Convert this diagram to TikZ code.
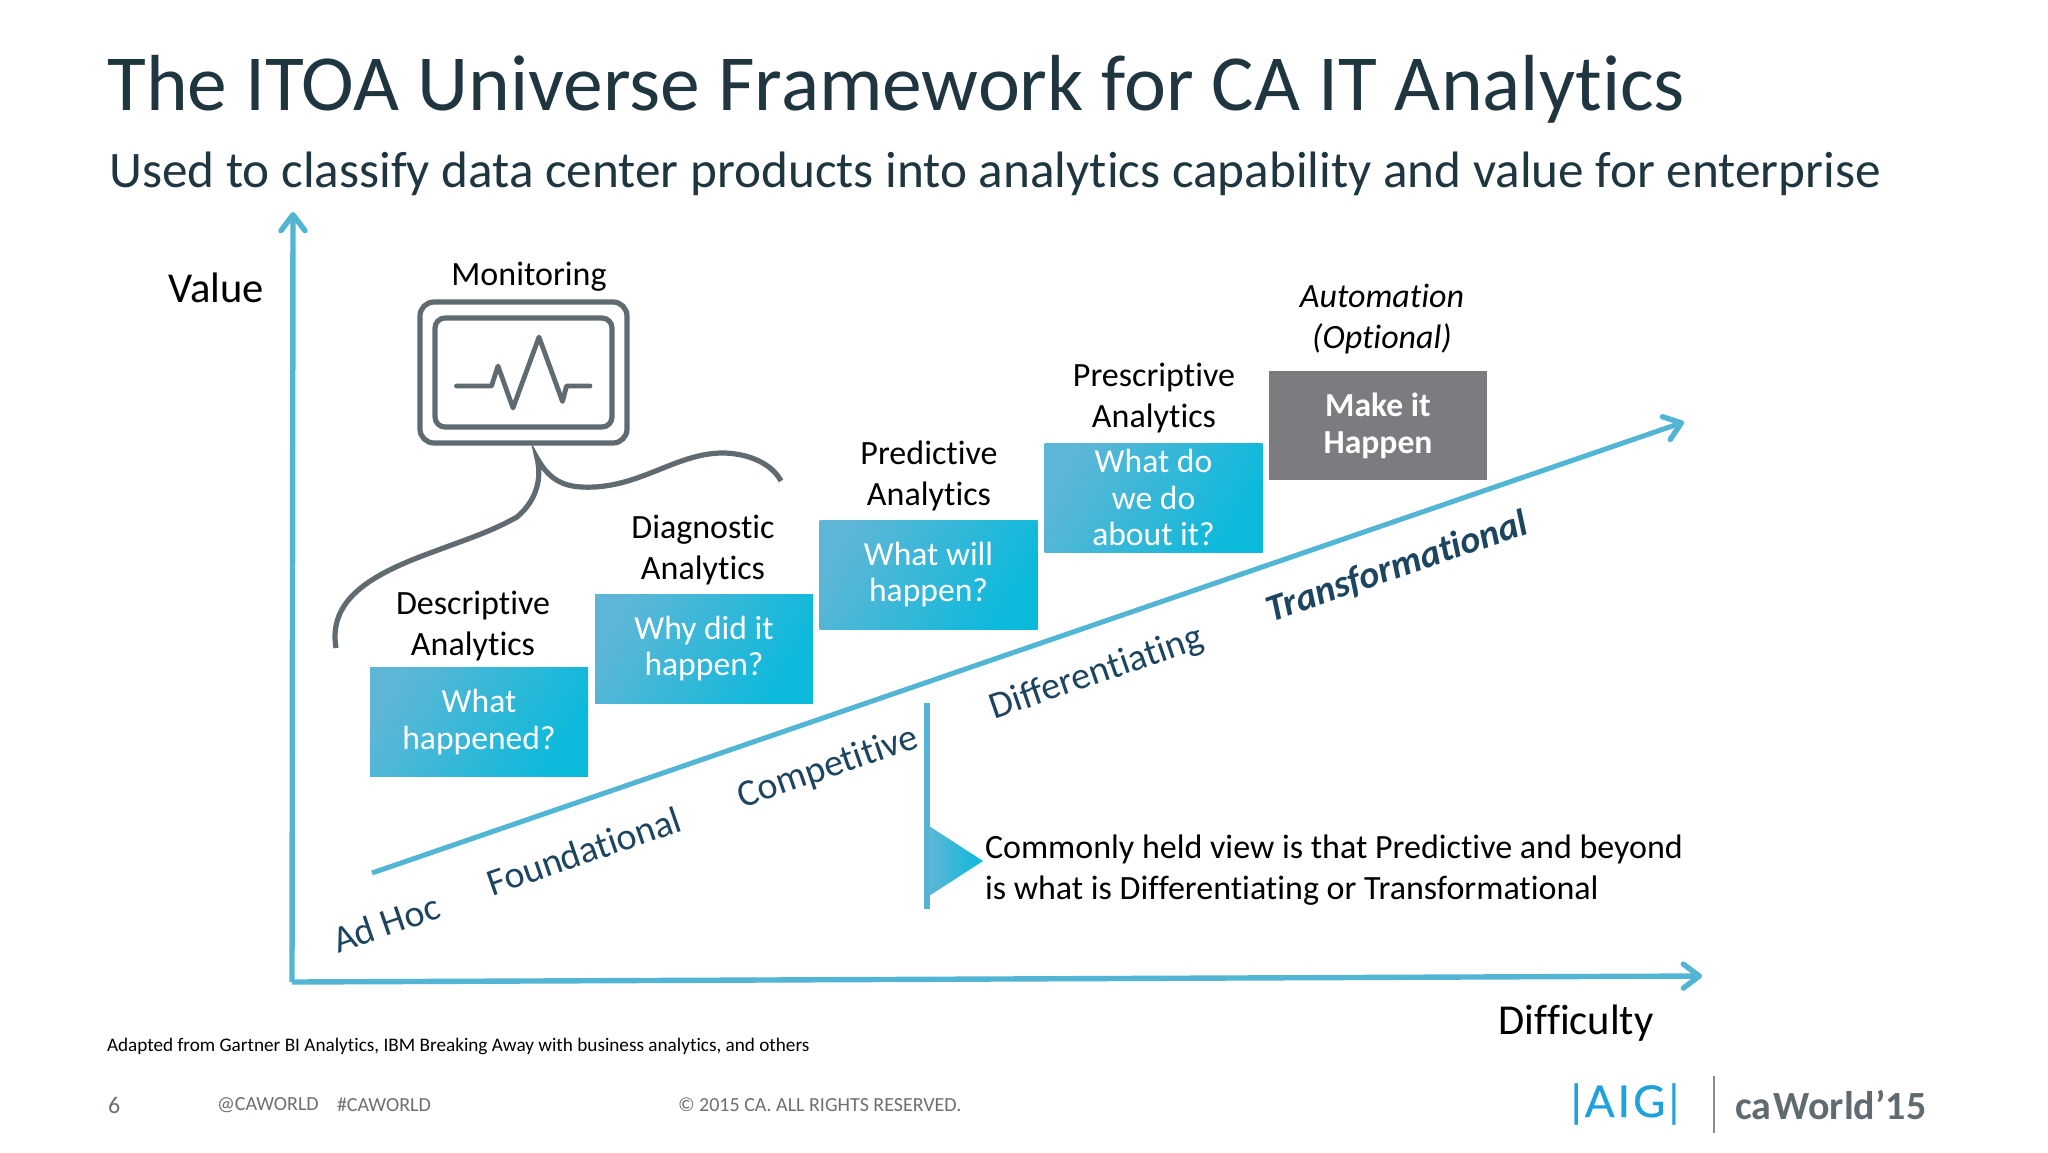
\documentclass[tikz,border=0pt]{standalone}
\usepackage{fontspec}
\setmainfont[Ligatures=NoCommon]{Carlito}
\newfontfamily\logofont[LetterSpace=7,FakeBold=0.4]{Lato}
\usetikzlibrary{arrows.meta,shapes.geometric}
\definecolor{axisblue}{HTML}{52B5D3}
\definecolor{boxleft}{HTML}{5DB6D6}
\definecolor{boxright}{HTML}{0BB9DB}
\definecolor{titleink}{HTML}{1F3640}
\definecolor{labelink}{HTML}{1D4560}
\definecolor{iconink}{HTML}{5F6B70}
\definecolor{makegrey}{HTML}{7C7C80}
\definecolor{footink}{HTML}{6B7074}
\definecolor{aigblue}{HTML}{1EA2DC}
\newcommand{\fs}[2]{\fontsize{#1}{#2}\selectfont}
\tikzset{
  x=0.5pt,y=-0.5pt,
  txt/.style={inner sep=0pt,outer sep=0pt,align=center,text=black,font=\fs{17}{20.5}},
  qbox/.style={inner sep=0pt,outer sep=0pt,minimum width=109pt,minimum height=54.5pt,align=center,
    left color=boxleft,right color=boxright,shading angle=60,text=white,font=\fs{16.8}{18.2}},
  makebox/.style={inner sep=0pt,outer sep=0pt,minimum width=109pt,minimum height=54.5pt,align=center,
    fill=makegrey,text=white,font=\bfseries\fs{16.8}{18.4}},
  band/.style={inner sep=0pt,outer sep=0pt,text=labelink,rotate=19,font=\fs{19}{20}},
  axis/.style={draw=axisblue,line width=2.7pt,-{Straight Barb[length=8pt,width=12pt,round,line width=2.7pt]}},
  foot/.style={inner sep=0pt,outer sep=0pt,anchor=west,text=footink,font=\fs{10}{11}},
  icon/.style={draw=iconink,line width=2.6pt,rounded corners=7pt,inner sep=0pt,outer sep=0pt},
  pulse/.style={draw=iconink,line width=2.4pt,line join=round,line cap=round},
  brace/.style={draw=iconink,line width=2.6pt},
}
\begin{document}
\begin{tikzpicture}
\useasboundingbox (0,0) rectangle (2048,1152);
\fill[white] (0,0) rectangle (2048,1152);
% headings
\node[inner sep=0pt,anchor=base west,text=titleink,font=\fs{39.75}{42}] (title) at (107,110) {The ITOA Universe Framework for CA IT Analytics};
\node[inner sep=0pt,anchor=base west,text=titleink,font=\fs{25.6}{28}] (subtitle) at (109,187) {Used to classify data center products into analytics capability and value for enterprise};
% axes
\coordinate (origin) at (292,982);
\coordinate (valuetip) at (293,212);
\coordinate (difftip) at (1702,976);
\coordinate (diagstart) at (372,873);
\coordinate (diagtip) at (1684,422);
\draw[axis] (origin) -- (valuetip);
\draw[axis] (origin) -- (difftip);
\draw[axis,line width=2.5pt] (diagstart) -- (diagtip);
\node[txt,font=\fs{21.3}{24}] (value) at (216,288) {Value};
\node[txt,font=\fs{21.3}{24}] (difficulty) at (1576,1023) {Difficulty};
% monitor
\node[icon,minimum width=103.5pt,minimum height=70.5pt] (monouter) at (523.5,372.5) {};
\node[icon,rounded corners=5pt,minimum width=88.5pt,minimum height=54.5pt] (moninner) at (523.5,372.5) {};
\coordinate (p1) at (456.5,386);
\coordinate (p2) at (491.5,386);
\coordinate (p3) at (498,366);
\coordinate (p4) at (513,408);
\coordinate (p5) at (539,337);
\coordinate (p6) at (562.5,401.5);
\coordinate (p7) at (566.5,386);
\coordinate (p8) at (590,386);
\draw[pulse] (p1) -- (p2) -- (p3) -- (p4) -- (p5) -- (p6) -- (p7) -- (p8);
\node[txt] (monitoring) at (529,277) {Monitoring};
% brace
\coordinate (bl) at (336,648);
\coordinate (bm) at (517,517);
\coordinate (bt) at (537,458);
\coordinate (br) at (781,481);
\draw[brace] (bl) .. controls (328,600) and (370,575) .. (430,553)
  .. controls (470,538) and (490,532) .. (bm)
  .. controls (537,500) and (542,478) .. (bt)
  .. controls (552,485) and (570,488) .. (595,487)
  .. controls (645,484) and (680,452) .. (725,453)
  .. controls (750,454) and (772,464) .. (br);
% steps
\node[txt] (desclabel) at (473,626) {Descriptive\\Analytics};
\node[txt] (diaglabel) at (703,550) {Diagnostic\\Analytics};
\node[txt] (predlabel) at (929,476) {Predictive\\Analytics};
\node[txt] (preslabel) at (1154,398) {Prescriptive\\Analytics};
\node[txt,font=\itshape\fs{17}{20.5}] (autolabel) at (1382,319) {Automation\\(Optional)};
\node[qbox] (q1) at (479,722) {What\\happened?};
\node[qbox] (q2) at (704,648.5) {Why did it\\happen?};
\node[qbox] (q3) at (928.5,574.5) {What will\\happen?};
\node[qbox] (q4) at (1153.5,497.5) {What do\\we do\\about it?};
\node[makebox] (q5) at (1378,425.5) {Make it\\Happen};
% bands
\node[band] (adhoc) at (386,923) {Ad Hoc};
\node[band] (found) at (584,851) {Foundational};
\node[band] (compet) at (828,768) {Competitive};
\node[band] (differ) at (1097,674) {Differentiating};
\node[band,font=\bfseries\itshape\fs{19}{20}] (transf) at (1397,567) {Transformational};
% callout
\coordinate (calltop) at (927,703);
\coordinate (callbot) at (927,909);
\draw[draw=axisblue,line width=2.6pt] (calltop) -- (callbot);
\coordinate (t1) at (929,826);
\coordinate (t2) at (983,861);
\coordinate (t3) at (929,896);
\shade[left color=boxleft,right color=boxright] (t1) -- (t2) -- (t3) -- cycle;
\node[txt,anchor=west,align=left] (callout) at (985,870) {Commonly held view is that Predictive and beyond\\is what is Differentiating or Transformational};
% footer
\node[txt,anchor=west,font=\fs{9.6}{11}] (source) at (107,1046) {Adapted from Gartner BI Analytics, IBM Breaking Away with business analytics, and others};
\node[foot,font=\fs{12}{14}] (pageno) at (108,1105) {6};
\node[foot] (handle) at (217,1105) {@CAWORLD};
\node[foot] (hash) at (337,1105) {\#CAWORLD};
\node[foot] (copy) at (678,1105) {© 2015 CA. ALL RIGHTS RESERVED.};
% logos
\node[inner sep=0pt,text=aigblue,font=\logofont\fs{22}{24}] (aig) at (1625,1104) {|AIG|};
\coordinate (sepa) at (1714,1076);
\coordinate (sepb) at (1714,1133);
\draw[draw=black!45,line width=0.8pt] (sepa) -- (sepb);
\node[inner sep=0pt,anchor=west,text=iconink,font=\bfseries\fs{20}{22}] (caworld) at (1735,1105) {ca\kern1pt World’15};
\end{tikzpicture}
\end{document}
